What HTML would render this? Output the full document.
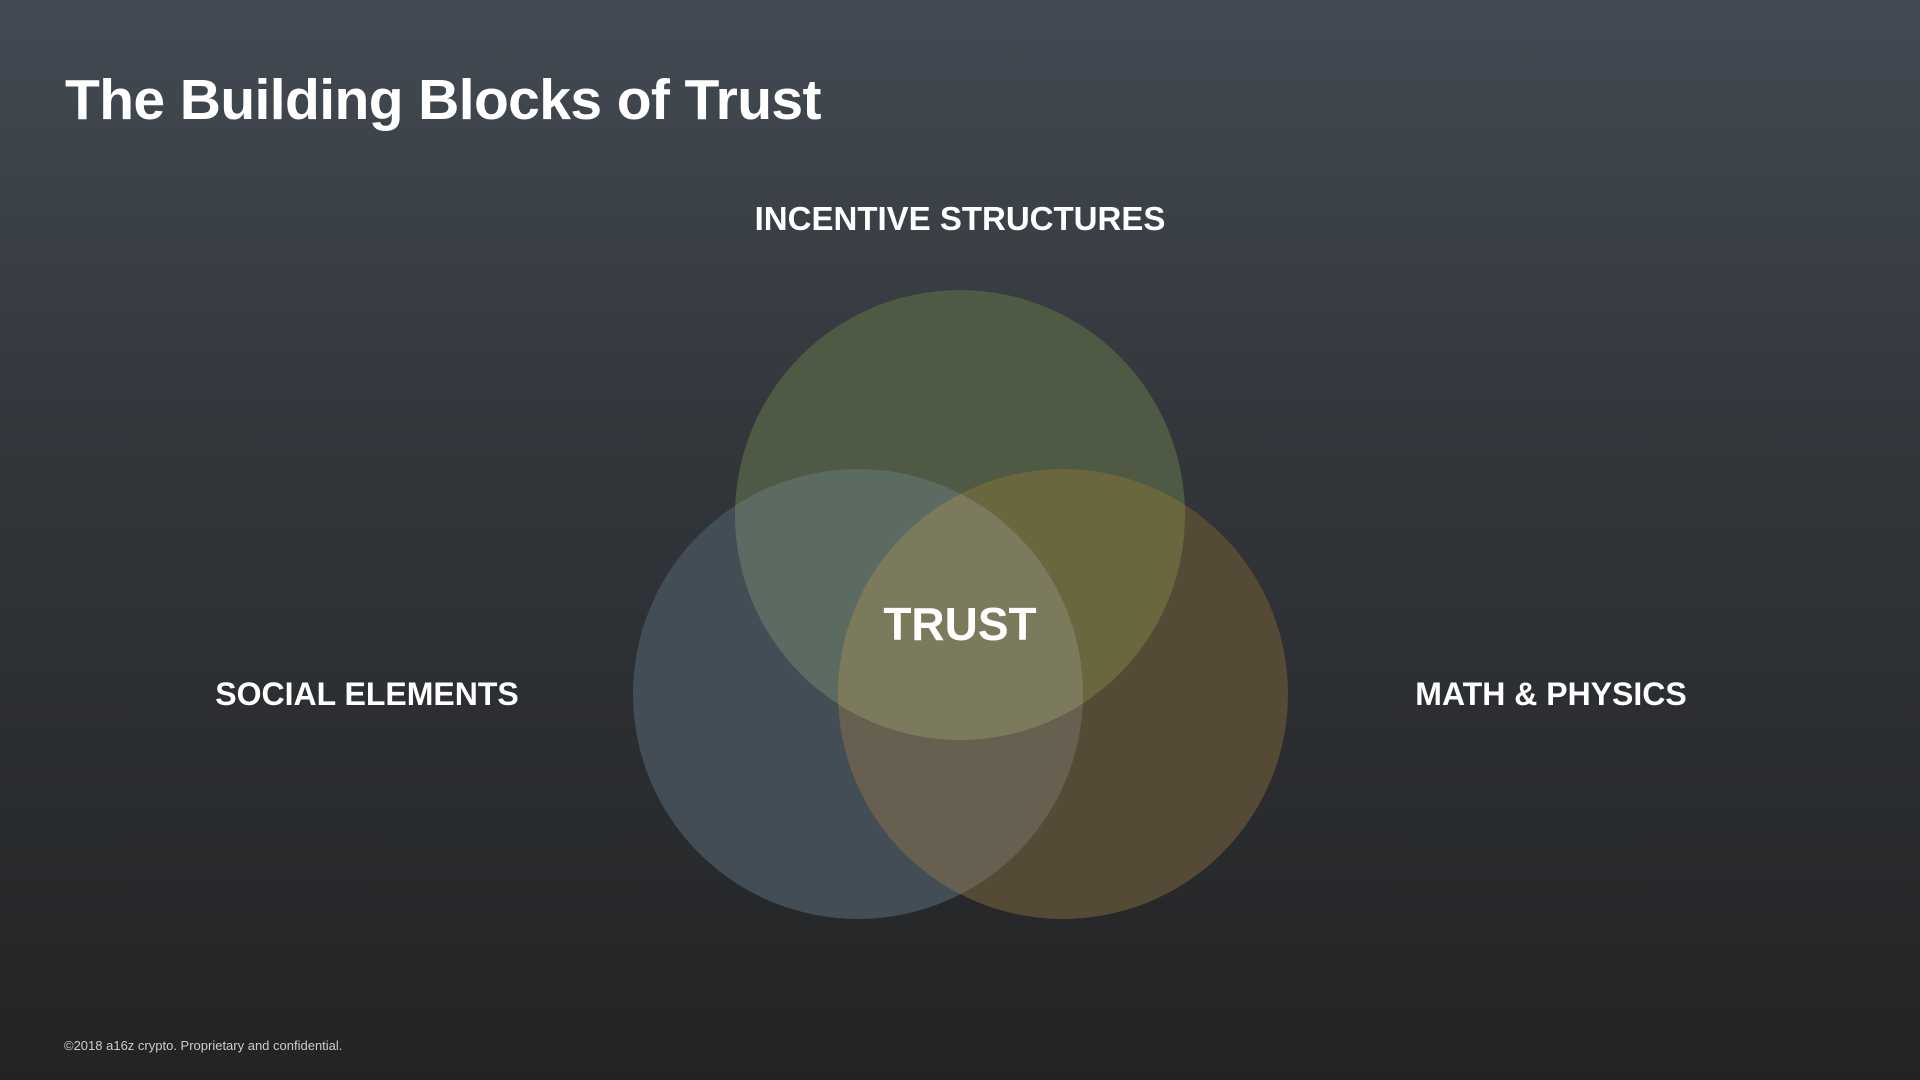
<!DOCTYPE html>
<html><head><meta charset="utf-8"><style>
html,body{margin:0;padding:0;}
body{width:1920px;height:1080px;overflow:hidden;background:linear-gradient(180deg,#434a53 0%,#33373c 40%,#222324 100%);font-family:"Liberation Sans",sans-serif;color:#fff;position:relative;}
.t{position:absolute;font-weight:bold;white-space:nowrap;}
</style></head><body>
<div class="t" style="left:65px;top:67px;font-size:57px;letter-spacing:-0.6px;">The Building Blocks of Trust</div>
<svg width="1920" height="1080" style="position:absolute;left:0;top:0">
<defs>
<clipPath id="ct"><circle cx="960" cy="515" r="225"/></clipPath>
<clipPath id="cl"><circle cx="858" cy="694" r="225"/></clipPath>
<clipPath id="cr"><circle cx="1063" cy="694" r="225"/></clipPath>
</defs>
<circle cx="960" cy="515" r="225" fill="#4f5a45"/>
<circle cx="858" cy="694" r="225" fill="#434d56"/>
<circle cx="1063" cy="694" r="225" fill="#554a35"/>
<g clip-path="url(#ct)"><circle cx="858" cy="694" r="225" fill="#5c6b62"/><circle cx="1063" cy="694" r="225" fill="#6a673f"/></g>
<g clip-path="url(#cl)"><circle cx="1063" cy="694" r="225" fill="#675f4f"/></g>
<g clip-path="url(#ct)"><g clip-path="url(#cl)"><circle cx="1063" cy="694" r="225" fill="#7b7a5d"/></g></g>
<g font-family="Liberation Sans, sans-serif" font-weight="bold" fill="#fff" text-anchor="middle">
<text x="960" y="230" font-size="33">INCENTIVE STRUCTURES</text>
<text x="367" y="705" font-size="32">SOCIAL ELEMENTS</text>
<text x="1551" y="705" font-size="32">MATH &amp; PHYSICS</text>
<text x="960" y="640" font-size="46">TRUST</text>
</g>
</svg>
<div style="position:absolute;left:64px;top:1038px;font-size:13px;color:#ccc;">©2018 a16z crypto. Proprietary and confidential.</div>
</body></html>
